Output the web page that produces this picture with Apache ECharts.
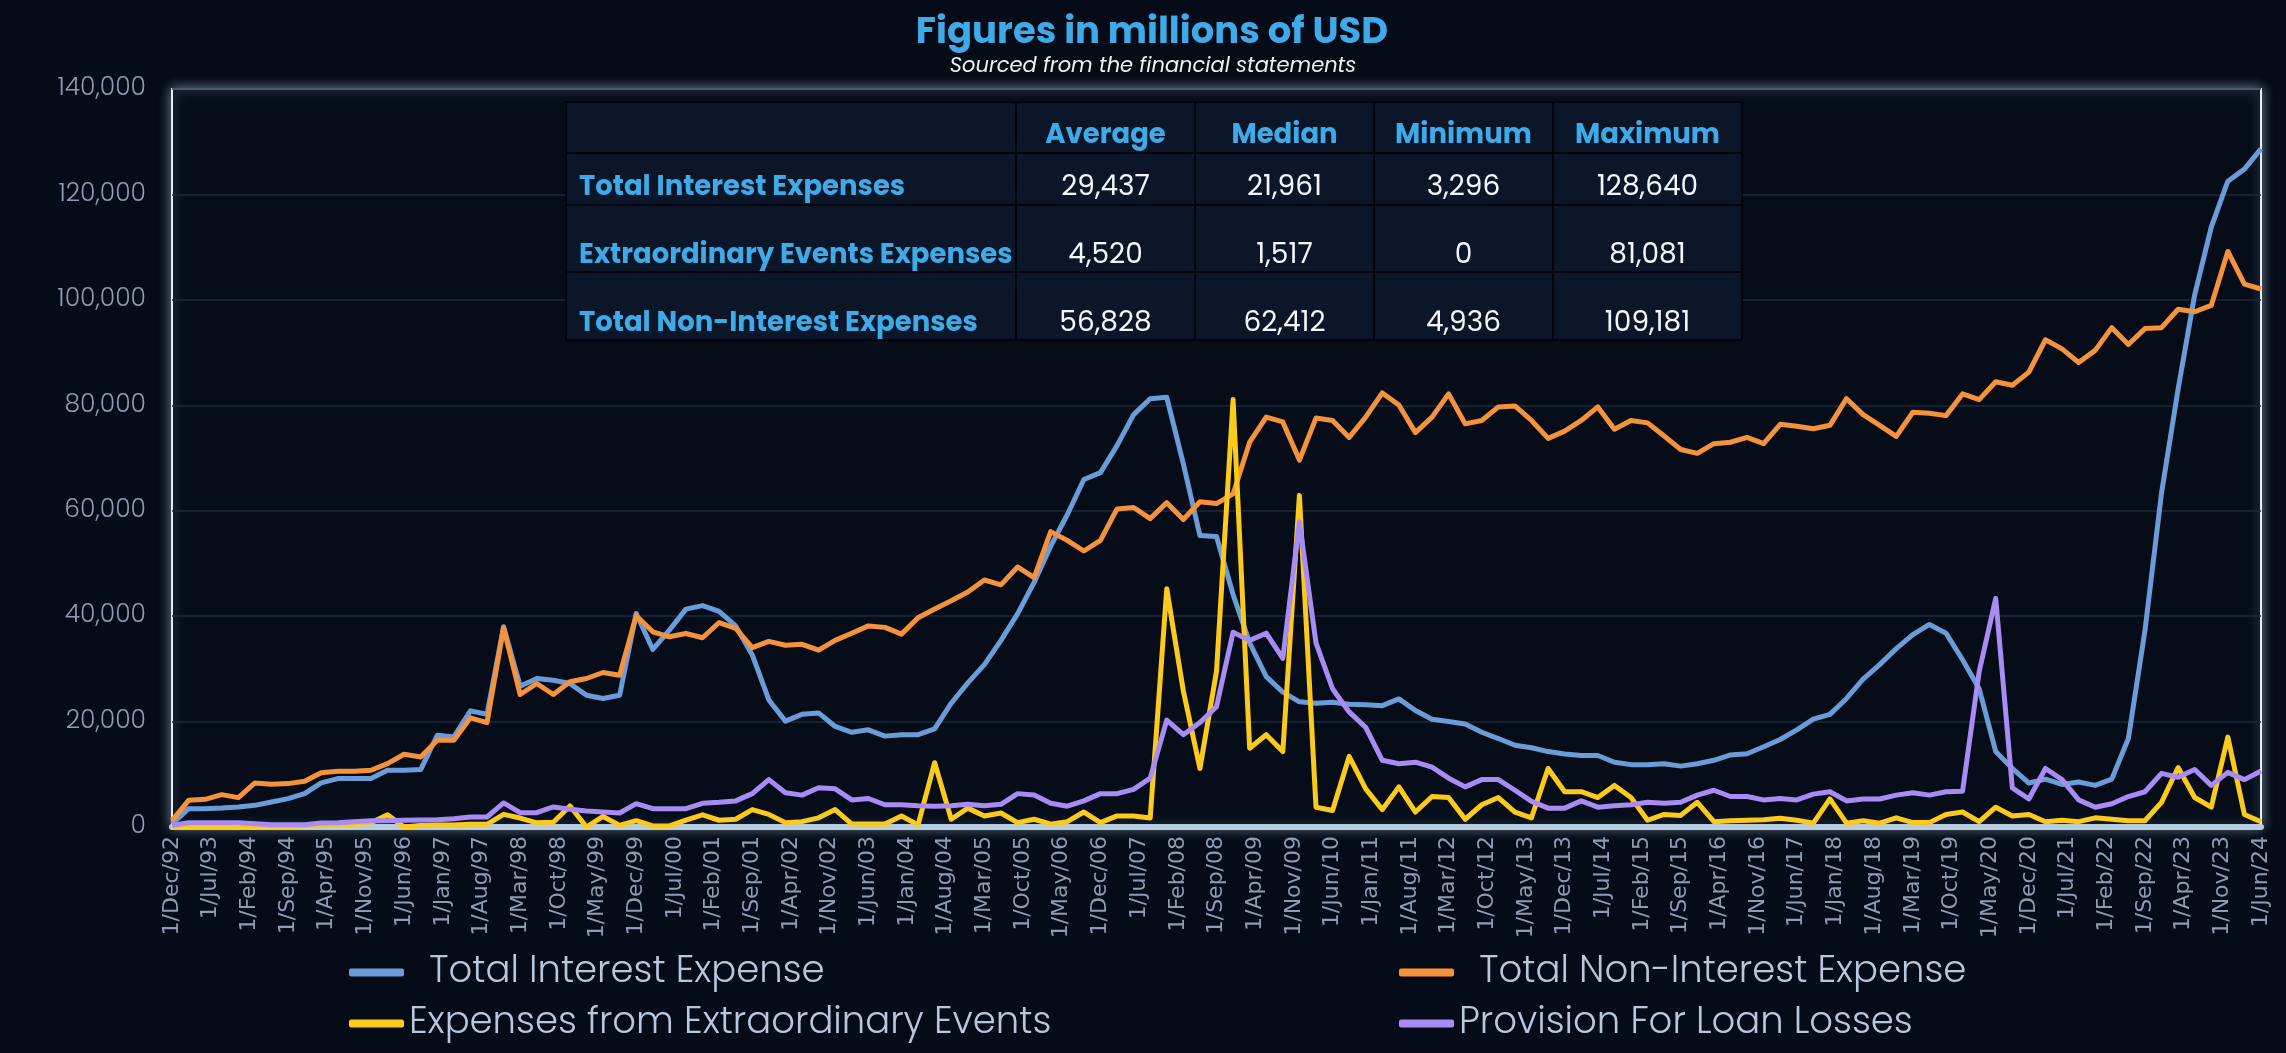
<!DOCTYPE html>
<html>
<head>
<meta charset="utf-8">
<title>Figures in millions of USD</title>
<script src="https://cdn.jsdelivr.net/npm/echarts@6/dist/echarts.min.js"></script>
<style>
  html, body { margin: 0; padding: 0; background: #060c17; }
  #chart { width: 2286px; height: 1053px; }
</style>
</head>
<body>
<div id="chart"></div>
<script>
// quarterly figures, Dec 1992 .. Jun 2024 (millions of USD)
var interestExp = [
    600, 3480, 3480, 3600, 3800, 4110, 4750, 5380, 6330, 8360,
    9180, 9180, 9180, 10760, 10760, 10890, 17400, 17090, 22030, 21400,
    38000, 26710, 28170, 27850, 27220, 25000, 24370, 25000, 40510, 33680,
    37350, 41330, 42000, 40900, 38150, 32650, 24100, 20080, 21370, 21640,
    19070, 17970, 18430, 17240, 17510, 17510, 18610, 23480, 27330, 30810,
    35400, 40440, 46400, 53280, 59240, 65930, 67220, 72350, 78220, 81250,
    81520, 68870, 55300, 55110, 44110, 34940, 28520, 25580, 23750, 23480,
    23660, 23290, 23200, 23020, 24300, 22100, 20450, 20000, 19530, 17970,
    16780, 15500, 15040, 14310, 13850, 13570, 13570, 12290, 11830, 11830,
    12010, 11550, 12010, 12650, 13660, 13900, 15220, 16600, 18430, 20450,
    21370, 24390, 28060, 30810, 33840, 36500, 38420, 36770, 31730, 26230,
    14310, 11100, 8340, 9080, 8070, 8530, 7890, 9080, 16780, 37230,
    63360, 83080, 100960, 113800, 122510, 124800, 128640
];
var nonInterestExp = [
    1200, 5060, 5250, 6140, 5570, 8360, 8100, 8230, 8670, 10300,
    10570, 10570, 10760, 12030, 13800, 13290, 16460, 16460, 20700, 19800,
    37790, 25130, 27220, 25130, 27540, 28170, 29310, 28800, 40070, 37030,
    36080, 36710, 35900, 38790, 37690, 34020, 35210, 34480, 34660, 33560,
    35400, 36770, 38150, 37870, 36590, 39710, 41360, 42920, 44570, 46860,
    45940, 49330, 47320, 56030, 54380, 52360, 54380, 60340, 60610, 58500,
    61530, 58320, 61710, 61350, 63180, 72990, 77760, 76840, 69600, 77580,
    77120, 73910, 77760, 82350, 80050, 74820, 77760, 82160, 76480, 77120,
    79690, 79870, 77120, 73730, 75100, 77120, 79690, 75470, 77120, 76660,
    74190, 71620, 70880, 72720, 72990, 73910, 72720, 76390, 76020, 75560,
    76200, 81250, 78220, 76200, 74100, 78680, 78500, 78040, 82160, 81070,
    84460, 83810, 86290, 92430, 90690, 88120, 90420, 94730, 91520, 94550,
    94730, 98210, 97750, 98940, 109181, 102980, 102060
];
var extraordinaryExp = [
    0, 0, 0, 0, 0, 0, 0, 100, 200, 300,
    400, 500, 800, 2300, 0, 300, 400, 400, 500, 500,
    2400, 1700, 800, 900, 4000, 0, 2000, 300, 1200, 200,
    200, 1300, 2300, 1280, 1470, 3300, 2380, 830, 1010, 1740,
    3300, 550, 550, 550, 2100, 400, 12200, 1470, 3580, 2100,
    2660, 830, 1470, 550, 1010, 2840, 830, 2100, 2100, 1700,
    45200, 25800, 11100, 29500, 81081, 14950, 17510, 14310, 62910, 3760,
    3120, 13390, 7240, 3300, 7610, 2840, 5780, 5590, 1470, 4220,
    5590, 2840, 1740, 11100, 6690, 6690, 5590, 7890, 5590, 1280,
    2380, 2200, 4680, 1010, 1190, 1280, 1380, 1650, 1280, 730,
    5320, 730, 1190, 730, 1740, 830, 830, 2380, 2840, 1010,
    3760, 2100, 2380, 1010, 1280, 1010, 1740, 1470, 1190, 1190,
    4680, 11280, 5590, 3760, 17060, 2380, 1010
];
var loanLossProv = [
    300, 820, 820, 820, 820, 630, 440, 440, 440, 760,
    820, 1010, 1200, 1200, 1270, 1330, 1390, 1580, 1900, 1900,
    4560, 2720, 2720, 3800, 3350, 3040, 2850, 2660, 4430, 3480,
    3480, 3480, 4500, 4680, 4950, 6330, 8990, 6510, 6050, 7430,
    7240, 5140, 5410, 4220, 4220, 4030, 3940, 4030, 4310, 4030,
    4310, 6330, 6050, 4490, 3940, 4950, 6330, 6330, 7150, 9260,
    20270, 17510, 19810, 22830, 36950, 35400, 36770, 32000, 57860, 34940,
    26230, 21830, 18890, 12650, 12010, 12290, 11370, 9260, 7610, 8990,
    8990, 6970, 4860, 3580, 3580, 4950, 3760, 4030, 4220, 4680,
    4490, 4680, 6050, 6970, 5780, 5780, 5140, 5410, 5140, 6240,
    6690, 4950, 5320, 5320, 6050, 6510, 6050, 6690, 6790, 29440,
    43370, 7430, 5320, 11100, 8990, 5140, 3760, 4400, 5780, 6690,
    10180, 9440, 10910, 7890, 10360, 8990, 10640
];

var seriesNames = ['Total Interest Expense', 'Total Non-Interest Expense',
    'Expenses from Extraordinary Events', 'Provision For Loan Losses'];
var seriesColors = ['#6a9cd9', '#f7923c', '#fcca1b', '#a98bf4'];

// summary table
var tableCols = ['Average', 'Median', 'Minimum', 'Maximum'];
var tableRows = ['Total Interest Expenses', 'Extraordinary Events Expenses', 'Total Non-Interest Expenses'];
var tableValues = [
    [29437, 21961, 3296, 128640],
    [4520, 1517, 0, 81081],
    [56828, 62412, 4936, 109181]
];

var monthNames = ['Jan', 'Feb', 'Mar', 'Apr', 'May', 'Jun', 'Jul', 'Aug', 'Sep', 'Oct', 'Nov', 'Dec'];
var startMonth = 1992 * 12 + 11; // Dec 1992, the axis counts months from here

function monthLabel(m) {
    var t = startMonth + Math.round(m);
    var y = Math.floor(t / 12);
    return '1/' + monthNames[t % 12] + '/' + String(y % 100).padStart(2, '0');
}

function toPoints(values) {
    // one value per quarter -> [months since Dec 1992, value]
    return values.map(function (v, i) { return [i * 3, v]; });
}

function fmt(n) {
    return n.toLocaleString('en-US');
}

var allSeries = [interestExp, nonInterestExp, extraordinaryExp, loanLossProv];

var series = allSeries.map(function (vals, i) {
    return {
        name: seriesNames[i],
        type: 'line',
        data: toPoints(vals),
        showSymbol: false,
        smooth: false,
        color: seriesColors[i],
        lineStyle: { width: 5, color: seriesColors[i], join: 'round' },
        z: 3 + i
    };
});

// table drawn as graphic elements on top of the plot
var colEdges = [566, 1016, 1195, 1374, 1553, 1742];
var rowEdges = [102, 153, 205, 272, 340];
var rowTextY = [136, 188, 256, 324];
var blueText = '#3eaae8';
var tableFontBold = 'bold 27.5px Poppins, "Open Sans", sans-serif';
var tableFont = '28px Poppins, Lato, sans-serif';

var tableEls = [];
tableEls.push({
    type: 'rect', z: 100,
    shape: { x: colEdges[0], y: rowEdges[0], width: colEdges[5] - colEdges[0], height: rowEdges[4] - rowEdges[0] },
    style: { fill: '#0b1628', stroke: '#02060c', lineWidth: 2 }
});
for (var c = 1; c < colEdges.length - 1; c++) {
    tableEls.push({
        type: 'line', z: 101,
        shape: { x1: colEdges[c], y1: rowEdges[0], x2: colEdges[c], y2: rowEdges[4] },
        style: { stroke: '#02060c', lineWidth: 2 }
    });
}
for (var r = 1; r < rowEdges.length - 1; r++) {
    tableEls.push({
        type: 'line', z: 101,
        shape: { x1: colEdges[0], y1: rowEdges[r], x2: colEdges[5], y2: rowEdges[r] },
        style: { stroke: '#02060c', lineWidth: 2 }
    });
}
tableCols.forEach(function (name, j) {
    tableEls.push({
        type: 'text', z: 102,
        style: {
            text: name, x: (colEdges[j + 1] + colEdges[j + 2]) / 2, y: rowTextY[0],
            fill: blueText, font: tableFontBold, textAlign: 'center', textVerticalAlign: 'middle'
        }
    });
});
tableRows.forEach(function (name, i) {
    tableEls.push({
        type: 'text', z: 102,
        style: {
            text: name, x: 579, y: rowTextY[i + 1],
            fill: blueText, font: tableFontBold, textAlign: 'left', textVerticalAlign: 'middle'
        }
    });
    tableValues[i].forEach(function (v, j) {
        tableEls.push({
            type: 'text', z: 102,
            style: {
                text: fmt(v), x: (colEdges[j + 1] + colEdges[j + 2]) / 2, y: rowTextY[i + 1],
                fill: '#f2f5f9', font: tableFont, textAlign: 'center', textVerticalAlign: 'middle'
            }
        });
    });
});

function legendAt(name, left, top, gapSpaces) {
    return {
        data: [name],
        left: left,
        top: top,
        icon: 'roundRect',
        itemWidth: 55,
        itemHeight: 8,
        formatter: function (n) { return gapSpaces + n; },
        textStyle: { color: '#b8c8dc', fontSize: 37, fontFamily: 'Poppins, Lato, sans-serif', fontWeight: 300 }
    };
}

var option = {
    backgroundColor: '#060c17',
    animation: false,
    grid: {
        left: 172,
        right: 25,
        top: 89,
        bottom: 226,
        show: true,
        backgroundColor: '#060d19',
        borderColor: '#e6edf5',
        borderWidth: 2,
        shadowColor: 'rgba(190,215,240,0.55)',
        shadowBlur: 12
    },
    legend: [
        legendAt(seriesNames[0], 344, 949, '  '),
        legendAt(seriesNames[1], 1394, 949, '  '),
        legendAt(seriesNames[2], 344, 1000, ''),
        legendAt(seriesNames[3], 1394, 1000, '')
    ],
    xAxis: {
        type: 'value',
        min: 0,
        max: 378,
        interval: 7,
        splitLine: { show: false },
        axisTick: { show: false },
        axisLine: { show: true, lineStyle: { color: '#b6cde1', width: 6 } },
        axisLabel: {
            rotate: 90,
            margin: 9,
            color: '#8b9db4',
            fontSize: 22,
            fontFamily: '"DejaVu Sans", Verdana, sans-serif',
            showMinLabel: true,
            showMaxLabel: true,
            formatter: monthLabel
        }
    },
    yAxis: {
        type: 'value',
        min: 0,
        max: 140000,
        interval: 20000,
        axisLine: { show: false },
        axisTick: { show: false },
        splitLine: { lineStyle: { color: '#1d283a', width: 1.5 } },
        axisLabel: {
            margin: 26,
            color: '#8d9db3',
            fontSize: 25,
            fontFamily: 'Poppins, Lato, sans-serif',
            fontWeight: 300,
            formatter: function (v) { return fmt(v); }
        }
    },
    graphic: [
        {
            type: 'text', z: 100,
            style: {
                text: 'Figures in millions of USD', x: 1152, y: 34,
                fill: blueText, font: 'bold 37px Poppins, "Open Sans", sans-serif',
                textAlign: 'center', textVerticalAlign: 'middle'
            }
        },
        {
            type: 'text', z: 100,
            style: {
                text: 'Sourced from the financial statements', x: 1153, y: 67,
                fill: '#eef2f7', font: 'italic 21px Poppins, Lato, sans-serif',
                textAlign: 'center', textVerticalAlign: 'middle'
            }
        },
        { type: 'group', z: 100, children: tableEls }
    ],
    series: series
};

var myChart = echarts.init(document.getElementById('chart'));
myChart.setOption(option);
</script>
</body>
</html>
